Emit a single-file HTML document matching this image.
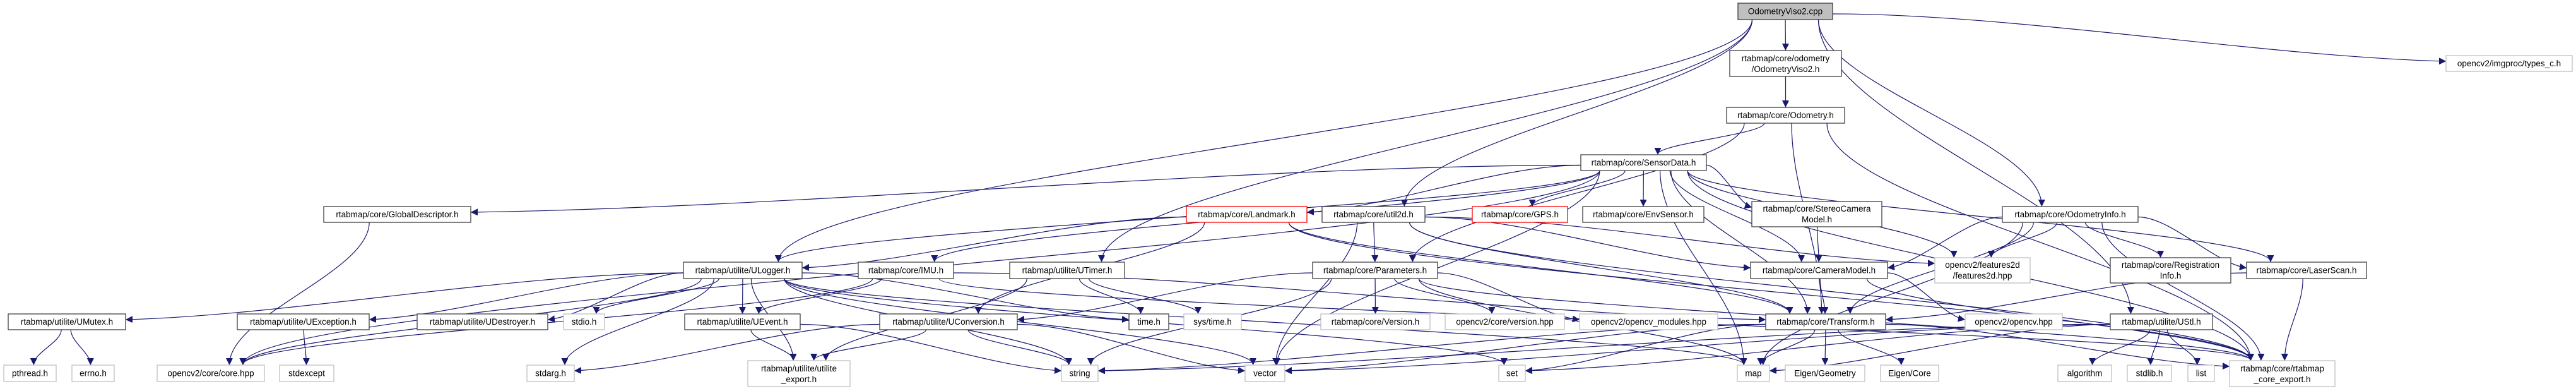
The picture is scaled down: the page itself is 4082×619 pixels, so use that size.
<!DOCTYPE html>
<html><head><meta charset="utf-8"><style>
html,body{margin:0;padding:0;background:#fff;}
svg{display:block;}
text{font-family:"Liberation Sans",sans-serif;font-size:13.5px;fill:#000;}
</style></head><body>
<svg id="g" width="4082" height="619" viewBox="0 0 4082 619" xmlns="http://www.w3.org/2000/svg">
<defs><marker id="a" markerWidth="12" markerHeight="12" refX="10" refY="5" orient="auto" markerUnits="userSpaceOnUse"><path d="M0,0 L10,5 L0,10 z" fill="#191970" stroke="#191970"/></marker></defs>
<g id="edges" fill="none" stroke="#191970" stroke-width="1.2"></g>
<g id="nodes">
<rect x="2754" y="5" width="150" height="26" fill="#bfbfbf" stroke="#404040" stroke-width="1.3"/><text x="2829" y="22.5" text-anchor="middle">OdometryViso2.cpp</text>
<rect x="2741" y="80" width="177" height="41" fill="#fff" stroke="#404040" stroke-width="1.3"/><text x="2829.5" y="97" text-anchor="middle">rtabmap/core/odometry</text><text x="2829.5" y="114" text-anchor="middle">/OdometryViso2.h</text>
<rect x="2736" y="170" width="187" height="25" fill="#fff" stroke="#404040" stroke-width="1.3"/><text x="2829.5" y="187" text-anchor="middle">rtabmap/core/Odometry.h</text>
<rect x="2505" y="245" width="199" height="25" fill="#fff" stroke="#404040" stroke-width="1.3"/><text x="2604.5" y="262" text-anchor="middle">rtabmap/core/SensorData.h</text>
<rect x="3876" y="88" width="200" height="25" fill="#fff" stroke="#bfbfbf" stroke-width="1.3"/><text x="3976" y="105" text-anchor="middle">opencv2/imgproc/types_c.h</text>
<rect x="513" y="327" width="233" height="25" fill="#fff" stroke="#404040" stroke-width="1.3"/><text x="629.5" y="344" text-anchor="middle">rtabmap/core/GlobalDescriptor.h</text>
<rect x="1880" y="327" width="191" height="25" fill="#fff" stroke="#ff0000" stroke-width="1.3"/><text x="1975.5" y="344" text-anchor="middle">rtabmap/core/Landmark.h</text>
<rect x="2095" y="327" width="163" height="25" fill="#fff" stroke="#404040" stroke-width="1.3"/><text x="2176.5" y="344" text-anchor="middle">rtabmap/core/util2d.h</text>
<rect x="2333" y="327" width="151" height="25" fill="#fff" stroke="#ff0000" stroke-width="1.3"/><text x="2408.5" y="344" text-anchor="middle">rtabmap/core/GPS.h</text>
<rect x="2508" y="327" width="192" height="25" fill="#fff" stroke="#404040" stroke-width="1.3"/><text x="2604" y="344" text-anchor="middle">rtabmap/core/EnvSensor.h</text>
<rect x="2776" y="319" width="206" height="40" fill="#fff" stroke="#404040" stroke-width="1.3"/><text x="2879" y="335" text-anchor="middle">rtabmap/core/StereoCamera</text><text x="2879" y="352" text-anchor="middle">Model.h</text>
<rect x="3173" y="327" width="215" height="25" fill="#fff" stroke="#404040" stroke-width="1.3"/><text x="3280.5" y="344" text-anchor="middle">rtabmap/core/OdometryInfo.h</text>
<rect x="1083" y="415" width="188" height="26" fill="#fff" stroke="#404040" stroke-width="1.3"/><text x="1177" y="432.5" text-anchor="middle">rtabmap/utilite/ULogger.h</text>
<rect x="1360" y="415" width="151" height="26" fill="#fff" stroke="#404040" stroke-width="1.3"/><text x="1435.5" y="432.5" text-anchor="middle">rtabmap/core/IMU.h</text>
<rect x="1600" y="415" width="182" height="26" fill="#fff" stroke="#404040" stroke-width="1.3"/><text x="1691" y="432.5" text-anchor="middle">rtabmap/utilite/UTimer.h</text>
<rect x="2080" y="415" width="198" height="26" fill="#fff" stroke="#404040" stroke-width="1.3"/><text x="2179" y="432.5" text-anchor="middle">rtabmap/core/Parameters.h</text>
<rect x="2774" y="415" width="217" height="26" fill="#fff" stroke="#404040" stroke-width="1.3"/><text x="2882.5" y="432.5" text-anchor="middle">rtabmap/core/CameraModel.h</text>
<rect x="3066" y="408" width="151" height="40" fill="#fff" stroke="#bfbfbf" stroke-width="1.3"/><text x="3141.5" y="424" text-anchor="middle">opencv2/features2d</text><text x="3141.5" y="441" text-anchor="middle">/features2d.hpp</text>
<rect x="3344" y="408" width="191" height="40" fill="#fff" stroke="#404040" stroke-width="1.3"/><text x="3439.5" y="424" text-anchor="middle">rtabmap/core/Registration</text><text x="3439.5" y="441" text-anchor="middle">Info.h</text>
<rect x="3560" y="415" width="190" height="26" fill="#fff" stroke="#404040" stroke-width="1.3"/><text x="3655" y="432.5" text-anchor="middle">rtabmap/core/LaserScan.h</text>
<rect x="13" y="497" width="186" height="25" fill="#fff" stroke="#404040" stroke-width="1.3"/><text x="106" y="514" text-anchor="middle">rtabmap/utilite/UMutex.h</text>
<rect x="376" y="497" width="209" height="25" fill="#fff" stroke="#404040" stroke-width="1.3"/><text x="480.5" y="514" text-anchor="middle">rtabmap/utilite/UException.h</text>
<rect x="661" y="497" width="207" height="25" fill="#fff" stroke="#404040" stroke-width="1.3"/><text x="764.5" y="514" text-anchor="middle">rtabmap/utilite/UDestroyer.h</text>
<rect x="893" y="497" width="65" height="25" fill="#fff" stroke="#bfbfbf" stroke-width="1.3"/><text x="925.5" y="514" text-anchor="middle">stdio.h</text>
<rect x="1085" y="497" width="183" height="25" fill="#fff" stroke="#404040" stroke-width="1.3"/><text x="1176.5" y="514" text-anchor="middle">rtabmap/utilite/UEvent.h</text>
<rect x="1394" y="497" width="218" height="25" fill="#fff" stroke="#404040" stroke-width="1.3"/><text x="1503" y="514" text-anchor="middle">rtabmap/utilite/UConversion.h</text>
<rect x="1789" y="497" width="63" height="25" fill="#fff" stroke="#404040" stroke-width="1.3"/><text x="1820.5" y="514" text-anchor="middle">time.h</text>
<rect x="1876" y="497" width="91" height="25" fill="#fff" stroke="#bfbfbf" stroke-width="1.3"/><text x="1921.5" y="514" text-anchor="middle">sys/time.h</text>
<rect x="2093" y="497" width="173" height="25" fill="#fff" stroke="#bfbfbf" stroke-width="1.3"/><text x="2179.5" y="514" text-anchor="middle">rtabmap/core/Version.h</text>
<rect x="2290" y="497" width="189" height="25" fill="#fff" stroke="#bfbfbf" stroke-width="1.3"/><text x="2384.5" y="514" text-anchor="middle">opencv2/core/version.hpp</text>
<rect x="2503" y="497" width="219" height="25" fill="#fff" stroke="#bfbfbf" stroke-width="1.3"/><text x="2612.5" y="514" text-anchor="middle">opencv2/opencv_modules.hpp</text>
<rect x="2798" y="497" width="190" height="25" fill="#fff" stroke="#404040" stroke-width="1.3"/><text x="2893" y="514" text-anchor="middle">rtabmap/core/Transform.h</text>
<rect x="3114" y="497" width="154" height="25" fill="#fff" stroke="#bfbfbf" stroke-width="1.3"/><text x="3191" y="514" text-anchor="middle">opencv2/opencv.hpp</text>
<rect x="3344" y="497" width="162" height="25" fill="#fff" stroke="#404040" stroke-width="1.3"/><text x="3425" y="514" text-anchor="middle">rtabmap/utilite/UStl.h</text>
<rect x="6" y="578" width="83" height="26" fill="#fff" stroke="#bfbfbf" stroke-width="1.3"/><text x="47.5" y="595.5" text-anchor="middle">pthread.h</text>
<rect x="114" y="578" width="67" height="26" fill="#fff" stroke="#bfbfbf" stroke-width="1.3"/><text x="147.5" y="595.5" text-anchor="middle">errno.h</text>
<rect x="249" y="578" width="170" height="26" fill="#fff" stroke="#bfbfbf" stroke-width="1.3"/><text x="334" y="595.5" text-anchor="middle">opencv2/core/core.hpp</text>
<rect x="443" y="578" width="86" height="26" fill="#fff" stroke="#bfbfbf" stroke-width="1.3"/><text x="486" y="595.5" text-anchor="middle">stdexcept</text>
<rect x="835" y="578" width="75" height="26" fill="#fff" stroke="#bfbfbf" stroke-width="1.3"/><text x="872.5" y="595.5" text-anchor="middle">stdarg.h</text>
<rect x="1185" y="571" width="162" height="41" fill="#fff" stroke="#bfbfbf" stroke-width="1.3"/><text x="1266" y="588" text-anchor="middle">rtabmap/utilite/utilite</text><text x="1266" y="605" text-anchor="middle">_export.h</text>
<rect x="1682" y="578" width="58" height="26" fill="#fff" stroke="#bfbfbf" stroke-width="1.3"/><text x="1711" y="595.5" text-anchor="middle">string</text>
<rect x="1973" y="578" width="63" height="26" fill="#fff" stroke="#bfbfbf" stroke-width="1.3"/><text x="2004.5" y="595.5" text-anchor="middle">vector</text>
<rect x="2375" y="578" width="42" height="26" fill="#fff" stroke="#bfbfbf" stroke-width="1.3"/><text x="2396" y="595.5" text-anchor="middle">set</text>
<rect x="2753" y="578" width="51" height="26" fill="#fff" stroke="#bfbfbf" stroke-width="1.3"/><text x="2778.5" y="595.5" text-anchor="middle">map</text>
<rect x="2829" y="578" width="126" height="26" fill="#fff" stroke="#bfbfbf" stroke-width="1.3"/><text x="2892" y="595.5" text-anchor="middle">Eigen/Geometry</text>
<rect x="2980" y="578" width="92" height="26" fill="#fff" stroke="#bfbfbf" stroke-width="1.3"/><text x="3026" y="595.5" text-anchor="middle">Eigen/Core</text>
<rect x="3261" y="578" width="85" height="26" fill="#fff" stroke="#bfbfbf" stroke-width="1.3"/><text x="3303.5" y="595.5" text-anchor="middle">algorithm</text>
<rect x="3371" y="578" width="70" height="26" fill="#fff" stroke="#bfbfbf" stroke-width="1.3"/><text x="3406" y="595.5" text-anchor="middle">stdlib.h</text>
<rect x="3467" y="578" width="42" height="26" fill="#fff" stroke="#bfbfbf" stroke-width="1.3"/><text x="3488" y="595.5" text-anchor="middle">list</text>
<rect x="3533" y="571" width="167" height="41" fill="#fff" stroke="#bfbfbf" stroke-width="1.3"/><text x="3616.5" y="588" text-anchor="middle">rtabmap/core/rtabmap</text><text x="3616.5" y="605" text-anchor="middle">_core_export.h</text>
</g>
</svg>
<script>
var N={cpp:[2754,2904,5,31],ov2h:[2741,2918,80,121],odo:[2736,2923,170,195],sd:[2505,2704,245,270],types:[3876,4076,88,113],
gd:[513,746,327,352],land:[1880,2071,327,352],util2d:[2095,2258,327,352],gps:[2333,2484,327,352],env:[2508,2700,327,352],stereo:[2776,2982,319,359],oinfo:[3173,3388,327,352],
ulog:[1083,1271,415,441],imu:[1360,1511,415,441],utimer:[1600,1782,415,441],params:[2080,2278,415,441],cam:[2774,2991,415,441],feat:[3066,3217,408,448],reg:[3344,3535,408,448],laser:[3560,3750,415,441],
umutex:[13,199,497,522],uexc:[376,585,497,522],udes:[661,868,497,522],stdio:[893,958,497,522],uevent:[1085,1268,497,522],uconv:[1394,1612,497,522],time:[1789,1852,497,522],systime:[1876,1967,497,522],version:[2093,2266,497,522],cvver:[2290,2479,497,522],cvmod:[2503,2722,497,522],transform:[2798,2988,497,522],cvhpp:[3114,3268,497,522],ustl:[3344,3506,497,522],
pthread:[6,89,578,604],errno:[114,181,578,604],corehpp:[249,419,578,604],stdexcept:[443,529,578,604],stdarg:[835,910,578,604],utilexp:[1185,1347,571,612],string:[1682,1740,578,604],vector:[1973,2036,578,604],set:[2375,2417,578,604],map:[2753,2804,578,604],eigengeo:[2829,2955,578,604],eigencore:[2980,3072,578,604],algorithm:[3261,3346,578,604],stdlib:[3371,3441,578,604],list:[3467,3509,578,604],coreexp:[3533,3700,571,612]};
var E="cpp ov2h,cpp ulog,cpp utimer,cpp util2d,cpp oinfo,cpp ustl,cpp types,ov2h odo,odo sd,odo params,odo transform,odo coreexp,sd gd,sd corehpp,sd ulog,sd imu,sd land,sd gps,sd env,sd stereo,sd cam,sd laser,sd transform,sd feat,sd coreexp,sd vector,sd map,land ulog,land uconv,land transform,land coreexp,util2d params,util2d vector,util2d cam,util2d transform,util2d feat,util2d coreexp,gd corehpp,oinfo feat,oinfo reg,oinfo laser,oinfo cam,oinfo transform,oinfo coreexp,oinfo map,stereo cam,cam transform,cam cvhpp,cam coreexp,laser transform,laser coreexp,ulog umutex,ulog uexc,ulog udes,ulog stdio,ulog uevent,ulog utilexp,ulog string,ulog stdarg,ulog time,ulog vector,ulog map,ulog set,imu uevent,imu corehpp,imu transform,imu coreexp,utimer time,utimer systime,utimer utilexp,params uconv,params version,params cvver,params cvmod,params map,params string,params coreexp,umutex pthread,umutex errno,uexc stdexcept,uevent utilexp,uevent string,uconv utilexp,uconv string,uconv vector,uconv stdarg,transform map,transform eigengeo,transform eigencore,transform string,transform vector,transform coreexp,transform set,ustl algorithm,ustl stdlib,ustl list,ustl vector,ustl string,ustl map,ustl set,ulog corehpp".split(",");
var g=document.getElementById("edges"),s="";
function cl(v,a,b){return Math.max(a,Math.min(b,v));}
E.forEach(function(e){var p=e.split(" "),A=N[p[0]],B=N[p[1]];
var ac=(A[0]+A[1])/2,bc=(B[0]+B[1])/2,aw=A[1]-A[0],bw=B[1]-B[0];
var dx=bc-ac,dyc=B[2]-A[3],d;
var dir=dx<0?-1:1;
if(Math.abs(dx)>3.5*dyc+aw/2 && dyc<100 && (dir<0?B[1]<A[0]:B[0]>A[1])){
 var sx=dir<0?A[0]:A[1],sy=(A[2]+A[3])/2+4;
 var tx=dir<0?B[1]:B[0],ty=B[2]+9;
 var h=Math.abs(tx-sx);
 d='M'+sx+','+sy+' C'+(sx+dir*h*0.3)+','+sy+' '+(tx-dir*h*0.3)+','+(ty-(ty-sy)*0.1)+' '+(tx-dir)+','+ty;
}else{
 var sx=cl(ac+dx*0.15,A[0]+aw*0.15,A[1]-aw*0.15),sy=A[3];
 var tx=cl(bc-dx*0.1,B[0]+bw*0.2,B[1]-bw*0.2),ty=B[2];
 var dy=ty-sy;
 d='M'+sx+','+sy+' C'+sx+','+(sy+dy*0.35)+' '+tx+','+(ty-dy*0.35)+' '+tx+','+(ty-1);
}
s+='<path d="'+d+'" marker-end="url(#a)"/>';});
g.innerHTML=s;
</script>
</body></html>
